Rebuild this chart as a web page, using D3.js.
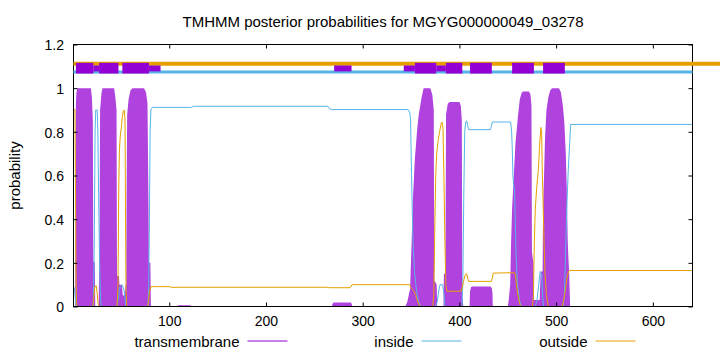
<!DOCTYPE html>
<html>
<head>
<meta charset="utf-8">
<script src="https://cdn.jsdelivr.net/npm/d3@7"></script>
<style>
  body { margin: 0; background: #fff; }
  text { font-family: "Liberation Sans", Arial, sans-serif; fill: #000; }
</style>
</head>
<body>
<div id="chart"></div>
<script>
const TITLE = 'TMHMM posterior probabilities for MGYG000000049_03278';
const SEQ_LEN = 641;
const X_TICKS = [100, 200, 300, 400, 500, 600];
const Y_TICKS = [0, 0.2, 0.4, 0.6, 0.8, 1, 1.2];
const SERIES = ['transmembrane', 'inside', 'outside'];

// posterior probabilities, [residue, probability]
const transmembrane = [
  [1,0],[2.8,0],[3.3,0.9],[4,0.98],[5,1],[19,1],[20,0.96],[21,0.85],[21.5,0.21],[23,0.2],[23.5,0],
  [27,0],[27.9,0.3],[28.5,0.9],[30,0.98],[31,1],[43,1],[44,0.97],[45.5,0.9],[46,0.14],[48,0.14],[48.5,0.1],
  [51,0.1],[52,0.05],[54,0.05],[55,0.1],[55.5,0.1],[56,0.6],[56.5,0.88],[58,0.95],[60,0.99],[62,1],[74,1],
  [76,0.98],[77.5,0.93],[78.5,0.5],[79,0.2],[80.5,0.2],[81,0],
  [108,0],[109,0.006],[122,0.006],[123,0],
  [268,0],[269.5,0.018],[288,0.018],[289.5,0],
  [344,0],[346,0.02],[349,0.08],[350.5,0.28],[352,0.5],[354,0.68],[356.5,0.82],[358,0.88],[361,0.96],[363,1],
  [370,1],[372,0.97],[373.5,0.9],[374,0.12],[376.5,0.1],[377,0],
  [383.5,0],[384,0.15],[385.5,0.15],[386.2,0.88],[388,0.93],[390,0.937],[400,0.937],[401.5,0.92],[402.5,0.85],[403,0.05],[404,0],
  [410.5,0],[411,0.07],[412,0.088],[413,0.092],[432,0.092],[433.5,0.085],[434.2,0.06],[434.5,0],
  [450,0],[451,0.03],[452.5,0.1],[453.5,0.3],[454.5,0.45],[456,0.58],[458,0.75],[460.5,0.87],[462.5,0.95],[464.5,0.98],
  [466,0.985],[472,0.985],[473.5,0.97],[474.5,0.92],[475,0.25],[476.5,0.2],[477,0.03],[483,0.03],
  [484,0.16],[486,0.16],[486.5,0.45],[487.5,0.6],[488.5,0.77],[490,0.9],[492,0.96],[494,0.99],[496,1],[503,1],
  [505,0.98],[507,0.92],[508.5,0.84],[510,0.7],[511,0.54],[512,0.3],[512.5,0.24],[513.5,0.15],[514.5,0],[641,0]
];

const inside = [
  [1,0.095],[2,0.08],[3.5,0.01],[4.5,0],[21.5,0],[22.5,0.3],[23.3,0.8],[24,0.9],[25.5,0.9],[26.2,0.8],[27,0.5],[28,0.2],[29,0.03],[30,0],
  [46,0],[47.5,0.04],[49,0.09],[51,0.1],[53,0.08],[54.5,0.03],[55.5,0],
  [78,0],[78.8,0.1],[79.5,0.4],[80.2,0.8],[81,0.9],[82.5,0.912],[123,0.912],[125,0.917],[264,0.917],[266,0.905],[268,0.902],
  [347,0.902],[348.5,0.89],[349.5,0.86],[350.5,0.6],[351.2,0.45],[352,0.3],[353.5,0.16],[356,0.06],[358,0.02],[360,0],
  [375,0],[377,0.02],[379,0.08],[380,0.1],[382.5,0.1],[384,0.06],[385,0],
  [402.5,0],[403.5,0.1],[404.5,0.5],[405.5,0.8],[406.5,0.846],[407.5,0.85],[408.5,0.83],[409.5,0.81],[432,0.81],[433,0.825],[434,0.845],
  [453,0.845],[454,0.8],[454.7,0.72],[455.3,0.6],[456,0.56],[457,0.54],[457.7,0.4],[458.5,0.25],[460,0.1],[462,0.03],[464,0],
  [478,0],[480,0.02],[482,0.1],[483.5,0.16],[485,0.15],[486,0.05],[487,0],
  [507,0],[508.5,0.05],[509.5,0.2],[511,0.45],[512.5,0.62],[514,0.75],[515,0.834],[641,0.834]
];

const outside = [
  [1,0.907],[2.5,0.9],[3,0.6],[3.5,0.2],[4,0.02],[5,0],
  [21,0],[22,0.04],[23,0.09],[24.5,0.095],[25.5,0.06],[26.5,0.01],[27.5,0],
  [46,0],[47,0.1],[47.8,0.55],[48.5,0.72],[49.5,0.79],[50.5,0.82],[51.5,0.87],[52.5,0.895],[53.5,0.9],[54.3,0.85],[54.8,0.4],[55.3,0.08],[56,0],
  [77.5,0],[78.5,0.02],[79.5,0.07],[81,0.09],[82.5,0.091],[100,0.091],[102,0.088],[264,0.088],[265.5,0.086],[287,0.086],[289,0.1],
  [348.5,0.1],[350,0.085],[351.5,0.078],[353,0.07],[355,0.05],[357,0.02],[359.5,0],
  [372.5,0],[373.5,0.05],[374.5,0.35],[375.5,0.6],[376.5,0.7],[378,0.76],[379.5,0.8],[381,0.835],[382,0.845],[383,0.82],
  [384,0.6],[385,0.3],[386,0.1],[387,0.07],[402,0.07],[403,0.09],[404.5,0.12],[406,0.145],[407.5,0.15],[408.5,0.13],[409.5,0.115],
  [433,0.115],[434,0.13],[435,0.153],[457,0.155],[458,0.14],[459,0.1],[460.5,0.05],[462.5,0.01],[464,0],
  [475.5,0],[476.5,0.05],[477.5,0.3],[478.5,0.45],[480,0.55],[481.5,0.62],[483,0.74],[484.2,0.82],[485,0.8],[485.8,0.6],
  [486.7,0.45],[487.5,0.3],[488.5,0.15],[490,0.05],[492,0],
  [506,0],[507.5,0.02],[509,0.06],[510,0.09],[511.5,0.14],[513,0.162],[514.5,0.165],[641,0.165]
];

// topology track above the plot, [start, end] in residues
const tmSegments   = [[3.5,21.5],[27.5,47.5],[51.5,79],[354,376],[386,403],[411,433.5],[454.5,477],[486.5,509]];
const tmWeak       = [[21.5,27.5],[79,91],[270.5,288.5],[342.5,354],[376,386]];
const outsideTrack = [[1, 670]];
const insideTrack  = [[1, SEQ_LEN]];

const COLORS = { transmembrane: '#9400d3', inside: '#56b4e9', outside: '#e69f00' };
const TM_FILL = '#b042de';

const W = 720, H = 352;
const margin = { top: 44.5, right: 27.5, bottom: 45.5, left: 73.5 };

const svg = d3.select('#chart').append('svg')
  .attr('width', W).attr('height', H);

const x = d3.scaleLinear().domain([1, SEQ_LEN]).range([margin.left, W - margin.right]);
const y = d3.scaleLinear().domain([0, 1.2]).range([H - margin.bottom, margin.top]);

// title
svg.append('text')
  .attr('x', (x.range()[0] + x.range()[1]) / 2).attr('y', 26.5)
  .attr('text-anchor', 'middle').attr('font-size', 15)
  .text(TITLE);

// y label
svg.append('text')
  .attr('transform', `translate(20,${(y.range()[0] + y.range()[1]) / 2}) rotate(-90)`)
  .attr('text-anchor', 'middle').attr('font-size', 15)
  .text('probability');

// transmembrane as filled impulses
svg.append('path')
  .datum(transmembrane)
  .attr('fill', TM_FILL)
  .attr('d', d3.area().x(d => x(d[0])).y0(y(0)).y1(d => y(d[1])));

const line = d3.line().x(d => x(d[0])).y(d => y(d[1]));

svg.append('path').datum(inside)
  .attr('fill', 'none').attr('stroke', COLORS.inside).attr('stroke-width', 1)
  .attr('d', line);

svg.append('path').datum(outside)
  .attr('fill', 'none').attr('stroke', COLORS.outside).attr('stroke-width', 1)
  .attr('d', line);

// axes: ticks pointing inwards, mirrored on top/right
const gx = svg.append('g').attr('transform', `translate(0,${y(0)})`)
  .call(d3.axisBottom(x).tickValues(X_TICKS).tickSizeInner(-4).tickSizeOuter(0).tickPadding(10));
const gy = svg.append('g').attr('transform', `translate(${x(1)},0)`)
  .call(d3.axisLeft(y).tickValues(Y_TICKS).tickFormat(d3.format('~g')).tickSizeInner(-4).tickSizeOuter(0).tickPadding(9.5));
svg.append('g').attr('transform', `translate(0,${y(1.2)})`)
  .call(d3.axisTop(x).tickValues(X_TICKS).tickFormat('').tickSizeInner(-4).tickSizeOuter(0));
svg.append('g').attr('transform', `translate(${x(SEQ_LEN)},0)`)
  .call(d3.axisRight(y).tickValues(Y_TICKS).tickFormat('').tickSizeInner(-4).tickSizeOuter(0));

svg.selectAll('.domain').remove();
svg.selectAll('.tick line').attr('stroke', '#000');
gx.selectAll('text').attr('font-size', 14).attr('font-family', null);
gy.selectAll('text').attr('font-size', 14).attr('font-family', null).attr('dy', '0.38em');

svg.append('rect')
  .attr('x', x(1)).attr('y', y(1.2))
  .attr('width', x(SEQ_LEN) - x(1)).attr('height', y(0) - y(1.2))
  .attr('fill', 'none').attr('stroke', '#000').attr('stroke-width', 1);

// topology track
const track = svg.append('g');
track.selectAll('.out').data(outsideTrack).join('line')
  .attr('x1', d => x(d[0])).attr('x2', d => x(d[1]))
  .attr('y1', y(1.112)).attr('y2', y(1.112))
  .attr('stroke', COLORS.outside).attr('stroke-width', 4);
track.selectAll('.in').data(insideTrack).join('line')
  .attr('x1', d => x(d[0])).attr('x2', d => x(d[1]))
  .attr('y1', y(1.074)).attr('y2', y(1.074))
  .attr('stroke', COLORS.inside).attr('stroke-width', 3);
track.selectAll('.weak').data(tmWeak).join('rect')
  .attr('x', d => x(d[0])).attr('width', d => x(d[1]) - x(d[0]))
  .attr('y', y(1.104)).attr('height', y(1.077) - y(1.104))
  .attr('fill', COLORS.transmembrane);
track.selectAll('.tm').data(tmSegments).join('rect')
  .attr('x', d => x(d[0])).attr('width', d => x(d[1]) - x(d[0]))
  .attr('y', y(1.116)).attr('height', y(1.067) - y(1.116))
  .attr('fill', COLORS.transmembrane);

// legend
const legend = svg.append('g').selectAll('g').data(SERIES).join('g')
  .attr('transform', (d, i) => `translate(${239.5 + i * 174},346.5)`);
legend.append('text')
  .attr('text-anchor', 'end').attr('font-size', 15)
  .text(d => d);
legend.append('line')
  .attr('x1', 8).attr('x2', 48).attr('y1', -5.5).attr('y2', -5.5)
  .attr('stroke', d => COLORS[d]).attr('stroke-width', 1);
</script>
</body>
</html>
